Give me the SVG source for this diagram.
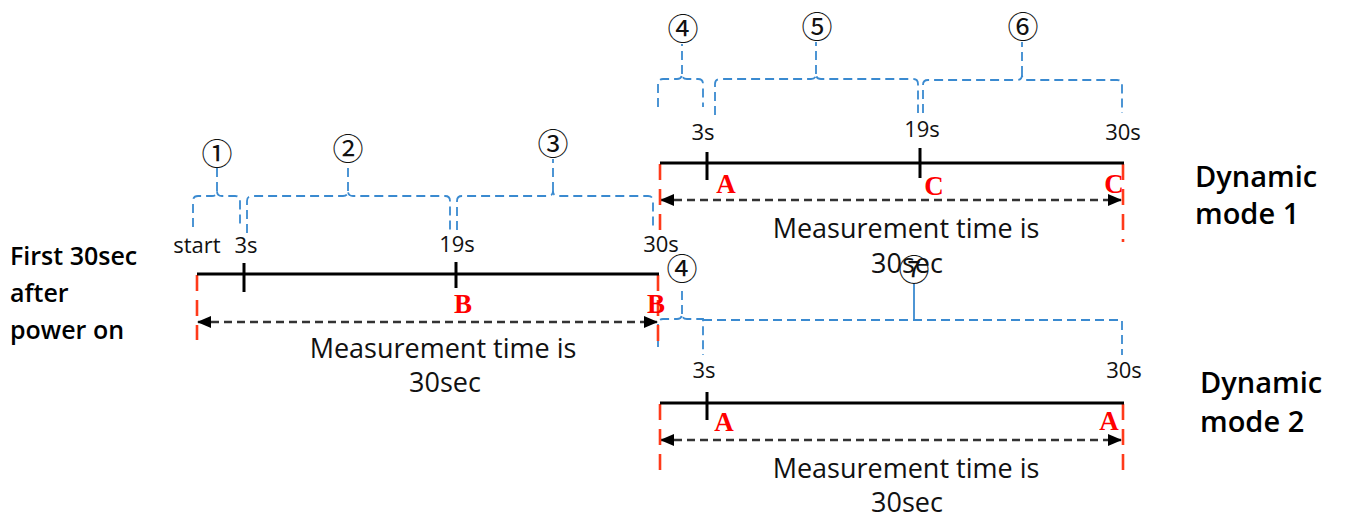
<svg xmlns="http://www.w3.org/2000/svg" width="1349" height="518" viewBox="0 0 1349 518">
<defs>
<marker id="ah" viewBox="0 0 14 12" refX="13" refY="6" markerWidth="14" markerHeight="12" markerUnits="userSpaceOnUse" orient="auto-start-reverse">
<path d="M0,0 L14,6 L0,12 Z" fill="#000"/>
</marker>
<style>
.tl{stroke:#000;stroke-width:3;fill:none}
.red{stroke:#ff3a1a;stroke-width:2.6;stroke-dasharray:16 9;fill:none}
.blue{stroke:#3a8ad0;stroke-width:1.8;stroke-dasharray:9 5;fill:none}
.bsolid{stroke:#3a8ad0;stroke-width:1.8;fill:none}
.arr{stroke:#333;stroke-width:2.5;stroke-dasharray:8 5;fill:none;marker-start:url(#ah);marker-end:url(#ah)}
.lbl{font-family:"Open Sans","Liberation Sans",sans-serif;font-size:22px;fill:#111;text-anchor:middle}
.meas{font-family:"Open Sans","Liberation Sans",sans-serif;font-size:27px;fill:#111;text-anchor:middle}
.side{font-family:"Open Sans","Liberation Sans",sans-serif;font-size:25px;font-weight:600;fill:#000}
.mode{font-family:"Open Sans","Liberation Sans",sans-serif;font-size:29px;font-weight:600;fill:#000}
.pt{font-family:"Liberation Serif",serif;font-size:27px;font-weight:bold;fill:#ff0000;text-anchor:middle}
.num{font-family:"Noto Sans CJK SC","DejaVu Sans",sans-serif;font-size:31px;fill:#111;text-anchor:middle;dominant-baseline:central}
</style>
</defs>

<g id="connectors">
<!-- Timeline 1 braces -->
<path class="blue" d="M193,227 V201 Q193,196 198,196 H212 Q217,196 217,191 Q217,196 222,196 H235 Q240,196 240,201 V227 M217,191 V168"/>
<path class="blue" d="M247,233 V201 Q247,196 252,196 H343 Q348,196 348,191 Q348,196 353,196 H445 Q450,196 450,201 V230 M348,191 V163"/>
<path class="blue" d="M457,230 V201 Q457,196 462,196 H548 Q553,196 553,191 Q553,196 558,196 H648 Q653,196 653,201 V227 M553,191 V159"/>
<!-- Mode 1 braces -->
<path class="blue" d="M658,107 V84 Q658,79 663,79 H677 Q682,79 682,74 Q682,79 687,79 H698 Q703,79 703,84 V107 M682,74 V44"/>
<path class="blue" d="M715,115 V84 Q715,79 720,79 H811 Q816,79 816,74 Q816,79 821,79 H913 Q918,79 918,84 V113 M816,74 V42"/>
<path class="blue" d="M923,113 V85 Q923,80 928,80 H1017 Q1022,80 1022,75 Q1022,80 1027,80 H1117 Q1122,80 1122,85 V113 M1022,75 V42"/>
<!-- Mode 2 braces -->
<path class="blue" d="M658,347 V324 Q658,319 663,319 H677 Q682,319 682,314 Q682,319 687,319 H703 V355 M682,314 V288"/>
<path class="blue" d="M703,320 H1122 V355"/>
<path class="bsolid" d="M914,320 V283"/>
<!-- dashed measurement arrows -->
<line class="arr" x1="198" y1="322" x2="657" y2="322"/>
<line class="arr" x1="661" y1="200" x2="1121" y2="200"/>
<line class="arr" x1="661" y1="440" x2="1121" y2="440"/>
</g>

<g id="timeline1">
<line class="red" x1="197" y1="275" x2="197" y2="340"/>
<line class="red" x1="658" y1="275" x2="658" y2="346"/>
<line class="tl" x1="197" y1="274" x2="659" y2="274"/>
<line class="tl" x1="244" y1="263" x2="244" y2="292"/>
<line class="tl" x1="456" y1="262" x2="456" y2="288"/>
<text class="lbl" x="197" y="253">start</text>
<text class="lbl" x="246" y="253">3s</text>
<text class="lbl" x="457" y="252">19s</text>
<text class="lbl" x="661" y="252">30s</text>
<text class="pt" x="463" y="313">B</text>
<text class="pt" x="656" y="313">B</text>
<text class="meas" x="443" y="358">Measurement time is</text>
<text class="meas" x="445" y="392">30sec</text>
</g>

<g id="timeline-mode1">
<line class="red" x1="660" y1="164" x2="660" y2="232"/>
<line class="red" x1="1123" y1="164" x2="1123" y2="242"/>
<line class="tl" x1="660" y1="163" x2="1124" y2="163"/>
<line class="tl" x1="707" y1="152" x2="707" y2="180"/>
<line class="tl" x1="920" y1="148" x2="920" y2="178"/>
<text class="lbl" x="703" y="140">3s</text>
<text class="lbl" x="922" y="137">19s</text>
<text class="lbl" x="1123" y="140">30s</text>
<text class="pt" x="726" y="193">A</text>
<text class="pt" x="934" y="195">C</text>
<text class="pt" x="1114" y="193">C</text>
<text class="meas" x="906" y="238">Measurement time is</text>
<text class="meas" x="907" y="273">30sec</text>
</g>

<g id="timeline-mode2">
<line class="red" x1="660" y1="404" x2="660" y2="470"/>
<line class="red" x1="1123" y1="404" x2="1123" y2="470"/>
<line class="tl" x1="660" y1="403" x2="1124" y2="403"/>
<line class="tl" x1="707" y1="392" x2="707" y2="420"/>
<text class="lbl" x="704" y="378">3s</text>
<text class="lbl" x="1124" y="378">30s</text>
<text class="pt" x="724" y="431">A</text>
<text class="pt" x="1109" y="430">A</text>
<text class="meas" x="906" y="478">Measurement time is</text>
<text class="meas" x="907" y="512">30sec</text>
</g>

<g id="labels">
<text class="num" x="217" y="151">①</text>
<text class="num" x="348" y="146">②</text>
<text class="num" x="553" y="141">③</text>
<text class="num" x="683" y="26">④</text>
<text class="num" x="817" y="24">⑤</text>
<text class="num" x="1023" y="24">⑥</text>
<text class="num" x="682" y="266">④</text>
<text class="num" x="914" y="267">⑦</text>
</g>

<g id="side-labels">
<text class="side" x="10" y="265">First 30sec</text>
<text class="side" x="10" y="302">after</text>
<text class="side" x="10" y="339">power on</text>
<text class="mode" x="1195" y="187">Dynamic</text>
<text class="mode" x="1195" y="224">mode 1</text>
<text class="mode" x="1200" y="393">Dynamic</text>
<text class="mode" x="1200" y="432">mode 2</text>
</g>
</svg>
